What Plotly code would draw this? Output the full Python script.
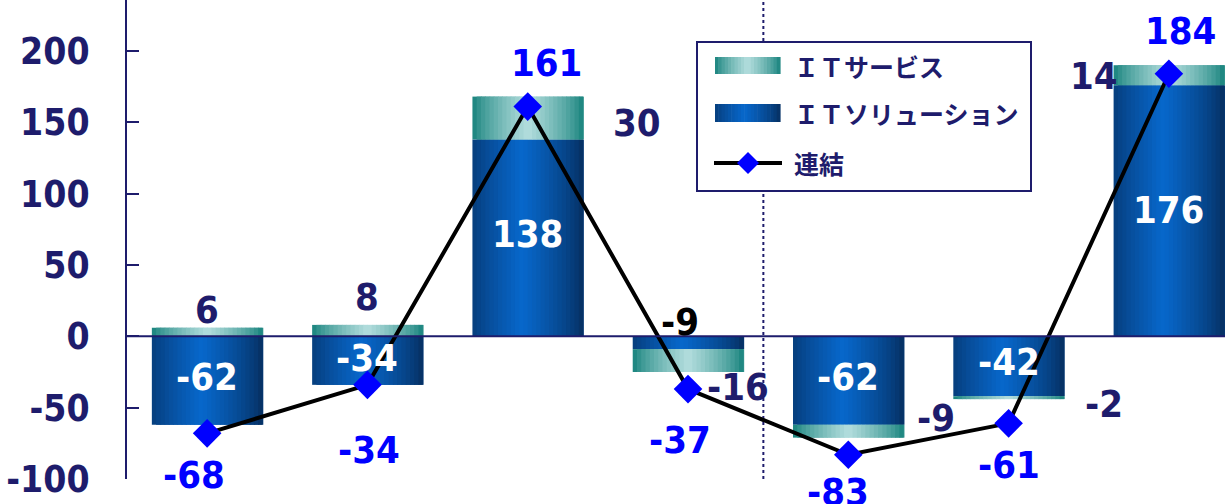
import numpy as np
import plotly.graph_objects as go

# data
periods = ['1', '2', '3', '4', '5', '6', '7']
it_services = [6, 8, 30, -16, -9, -2, 14]
it_solutions = [-62, -34, 138, -9, -62, -42, 176]
consolidated = [-68, -34, 161, -37, -83, -61, 184]
y_ticks = [-100, -50, 0, 50, 100, 150, 200]
y_ticktext = ['-100', '-50', '0', '50', '100', '150', '200']
legend_names = ['ＩＴサービス', 'ＩＴソリューション', '連結']

NAVY = '#1e1c6c'
BLUE = '#0000ff'
FONT = 'DejaVu Sans Condensed, DejaVu Sans, sans-serif'
JFONT = 'Noto Sans CJK JP, sans-serif'

xs = list(range(len(periods)))
W = 0.69
N = 26

SOL_EDGE, SOL_MID = (6, 46, 94), (8, 104, 204)
SRV_EDGE, SRV_MID = (18, 128, 122), (180, 222, 222)


def grad(edge, mid, t, peak):
    f = 1 - abs(t - peak) / max(peak, 1 - peak)
    f = max(0.0, f) ** 0.75
    c = [int(e + (m - e) * f) for e, m in zip(edge, mid)]
    return 'rgb(%d,%d,%d)' % tuple(c)


# services stack on solutions only when same sign
srv_base = [s if s * v > 0 else 0 for s, v in zip(it_solutions, it_services)]

fig = go.Figure()

# horizontal gradient faked with thin overlapping strips
for vals, base, edge, mid, peak in [
    (it_solutions, [0] * len(xs), SOL_EDGE, SOL_MID, 0.45),
    (it_services, srv_base, SRV_EDGE, SRV_MID, 0.5),
]:
    for k in range(N):
        t = (k + 0.5) / N
        wk = W / N * (2.2 if k < N - 1 else 1.0)
        fig.add_trace(go.Bar(
            x=xs, y=vals, base=base,
            width=wk, offset=-W / 2 + k * W / N,
            marker=dict(color=grad(edge, mid, t, peak), line=dict(width=0)),
            showlegend=False, hoverinfo='skip'
        ))

fig.add_trace(go.Scatter(
    x=xs, y=consolidated, mode='lines+markers',
    line=dict(color='black', width=4),
    marker=dict(symbol='diamond', size=22, color=BLUE),
    showlegend=False, cliponaxis=False
))

annotations = []

# consolidated labels
cons_shift = [(-13, -42), (2, -65), (19, 44), (-8, -51), (-10, -37), (0, -42), (12, 43)]
for x, v, (dx, dy) in zip(xs, consolidated, cons_shift):
    annotations.append(dict(x=x, y=v, text=str(v), showarrow=False, xshift=dx, yshift=dy,
                            font=dict(family=FONT, size=38, color=BLUE, weight='bold')))

# IT services labels (anchored at stack end)
srv_shift = [(0, 18), (0, 28), (109, -26), (50, -15), (88, 20), (95, -5), (-75, -11)]
for x, v, b, (dx, dy) in zip(xs, it_services, srv_base, srv_shift):
    annotations.append(dict(x=x, y=v + b, text=str(v), showarrow=False, xshift=dx, yshift=dy,
                            font=dict(family=FONT, size=38, color=NAVY, weight='bold')))

# IT solutions labels (bar middle)
sol_shift = [(0, 4), (0, 3), (0, 4), (-8, 21), (0, 4), (0, 4), (0, 1)]
for x, v, (dx, dy) in zip(xs, it_solutions, sol_shift):
    col = 'white' if abs(v) > 20 else 'black'
    annotations.append(dict(x=x, y=v / 2, text=str(v), showarrow=False, xshift=dx, yshift=dy,
                            font=dict(family=FONT, size=38, color=col, weight='bold')))

# custom legend, paper coords from pixel positions
X0, PW, PH = 127, 1098, 479
def px(x):
    return (x - X0) / PW
def py(y):
    return (PH - y) / PH

shapes = [
    dict(type='line', xref='paper', yref='y', x0=0, x1=1, y0=0, y1=0,
         line=dict(color=NAVY, width=2), layer='above'),
    dict(type='line', xref='x', yref='paper', x0=3.47, x1=3.47, y0=0, y1=1,
         line=dict(color=NAVY, width=2, dash='dot'), layer='below'),
    dict(type='rect', xref='paper', yref='paper', x0=px(697), x1=px(1031), y0=py(191), y1=py(42),
         line=dict(color=NAVY, width=2), fillcolor='white', layer='above'),
]
M = 20
for (y0, y1), edge, mid, peak in [((57, 74), SRV_EDGE, SRV_MID, 0.5), ((104, 122), SOL_EDGE, SOL_MID, 0.45)]:
    for k in range(M):
        t = (k + 0.5) / M
        a = 715 + 65 * k / M
        shapes.append(dict(type='rect', xref='paper', yref='paper',
                           x0=px(a), x1=px(a + 65 / M + 0.6), y0=py(y1), y1=py(y0),
                           line=dict(width=0), fillcolor=grad(edge, mid, t, peak), layer='above'))
shapes.append(dict(type='line', xref='paper', yref='paper', x0=px(714), x1=px(782), y0=py(163), y1=py(163),
                   line=dict(color='black', width=4), layer='above'))
cx, cy, r = 748, 163, 11
shapes.append(dict(type='path', xref='paper', yref='paper',
                   path='M %f,%f L %f,%f L %f,%f L %f,%f Z' % (px(cx), py(cy - r), px(cx + r), py(cy),
                                                               px(cx), py(cy + r), px(cx - r), py(cy)),
                   fillcolor=BLUE, line=dict(width=0), layer='above'))

for name, ty in zip(legend_names, [66, 113, 163]):
    annotations.append(dict(xref='paper', yref='paper', x=px(792), y=py(ty), text=name,
                            showarrow=False, xanchor='left', yanchor='middle',
                            font=dict(family=JFONT, size=25, color=NAVY, weight='bold')))

fig.update_layout(
    barmode='overlay',
    width=1225, height=504,
    margin=dict(l=127, r=0, t=0, b=25),
    plot_bgcolor='white', paper_bgcolor='white',
    xaxis=dict(visible=False, range=[-0.5, 6.35], automargin=False),
    yaxis=dict(range=[-100, 235.7], tickvals=y_ticks, ticktext=y_ticktext,
               showgrid=False, zeroline=False, automargin=False,
               showline=True, linecolor=NAVY, linewidth=2,
               ticks='inside', ticklen=12, tickwidth=2, tickcolor=NAVY,
               ticklabelstandoff=28,
               tickfont=dict(family=FONT, size=37, color=NAVY, weight='bold')),
    shapes=shapes,
    annotations=annotations,
)

# page body has a default margin; drop it so the figure sits at the corner
fig.write_html("out.html", config={'displayModeBar': False},
               post_script="document.body.style.margin='0';")
